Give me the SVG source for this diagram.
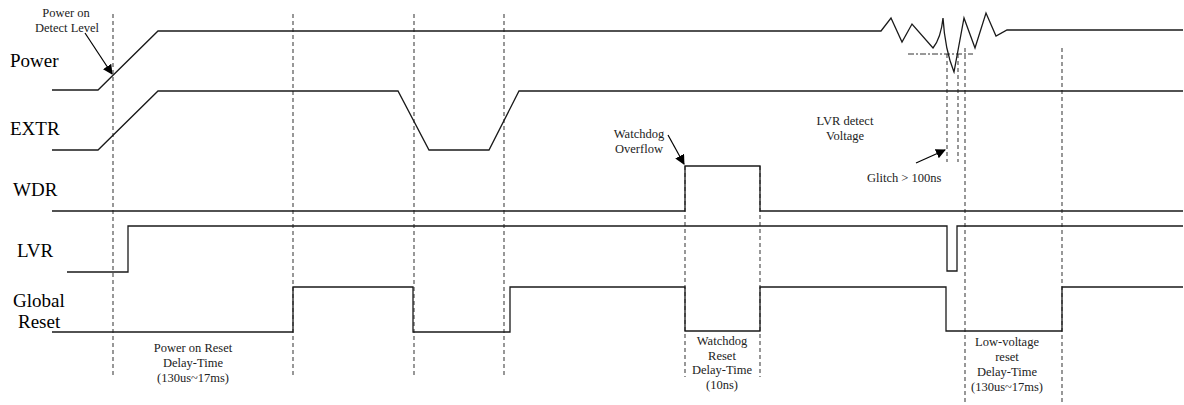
<svg xmlns="http://www.w3.org/2000/svg" width="1184" height="405" viewBox="0 0 1184 405">
<style>
.sig{fill:none;stroke:#1a1a1a;stroke-width:1.3}
.dash{fill:none;stroke:#444;stroke-width:1.1;stroke-dasharray:4,3}
.dashdot{fill:none;stroke:#333;stroke-width:1;stroke-dasharray:6,2,2,2}
.lbl{font-family:"Liberation Serif",serif;font-size:19px;fill:#000}
.note{font-family:"Liberation Serif",serif;font-size:12.5px;fill:#222}
.arr{fill:none;stroke:#000;stroke-width:1.2}
</style>
<defs>
<marker id="ah" viewBox="0 0 10 10" refX="9" refY="5" markerWidth="10" markerHeight="10" markerUnits="userSpaceOnUse" orient="auto">
<path d="M0,0 L10,5 L0,10 z" fill="#000"/>
</marker>
</defs>
<rect width="1184" height="405" fill="#fff"/>

<g id="labels">
<text class="lbl" x="10" y="67">Power</text>
<text class="lbl" x="10" y="135">EXTR</text>
<text class="lbl" x="13" y="196">WDR</text>
<text class="lbl" x="17" y="257">LVR</text>
<text class="lbl" x="13" y="307">Global</text>
<text class="lbl" x="18" y="328">Reset</text>
</g>

<g id="guides">
<line class="dash" x1="113" y1="14" x2="113" y2="377"/>
<line class="dash" x1="293" y1="14" x2="293" y2="377"/>
<line class="dash" x1="414" y1="14" x2="414" y2="377"/>
<line class="dash" x1="504" y1="14" x2="504" y2="377"/>
<line class="dash" x1="685" y1="166" x2="685" y2="377"/>
<line class="dash" x1="760" y1="166" x2="760" y2="377"/>
<line class="dash" x1="947" y1="54" x2="947" y2="162"/>
<line class="dash" x1="958" y1="54" x2="958" y2="162"/>
<line class="dash" x1="965" y1="48" x2="965" y2="405"/>
<line class="dash" x1="1062" y1="48" x2="1062" y2="405"/>
<line class="dashdot" x1="908" y1="54" x2="973" y2="54"/>
</g>

<g id="power">
<path class="sig" d="M52,90 L98,90 L158,31 L881,31 L891,18 L902,42 L912,24 L933,48 Q941,38 943,18 Q945,50 954,72 L964,18 L975,48 L986,13 L996,36 L1007,30 L1183,30"/>
</g>
<g id="extr">
<path class="sig" d="M52,150 L98,150 L158,91 L398,91 L429,150 L489,150 L519,91 L1183,91"/>
</g>
<g id="wdr">
<path class="sig" d="M52,211 L685,211 L685,166 L760,166 L760,211 L1183,211"/>
</g>
<g id="lvr">
<path class="sig" d="M67,272 L128,272 L128,226 L947,226 L947,271 L957,271 L957,226 L1183,226"/>
</g>
<g id="global-reset">
<path class="sig" d="M52,332 L293,332 L293,287 L413,287 L413,332 L510,332 L510,287 L685,287 L685,331 L760,331 L760,287 L946,287 L946,331 L1062,331 L1062,287 L1183,287"/>
</g>

<g id="connectors">
<line class="arr" x1="85" y1="33" x2="112" y2="74" marker-end="url(#ah)"/>
<line class="arr" x1="668" y1="135" x2="684" y2="164" marker-end="url(#ah)"/>
<line class="arr" x1="916" y1="163" x2="945" y2="150" marker-end="url(#ah)"/>
</g>

<g id="annotations">
<text class="note" text-anchor="middle" x="66" y="17">Power on</text>
<text class="note" text-anchor="middle" x="67" y="32">Detect Level</text>
<text class="note" text-anchor="middle" x="639" y="138">Watchdog</text>
<text class="note" text-anchor="middle" x="639" y="153">Overflow</text>
<text class="note" text-anchor="middle" x="845" y="125">LVR detect</text>
<text class="note" text-anchor="middle" x="845" y="140">Voltage</text>
<text class="note" x="867" y="182">Glitch &gt; 100ns</text>
<text class="note" text-anchor="middle" x="193" y="352">Power on Reset</text>
<text class="note" text-anchor="middle" x="193" y="367">Delay-Time</text>
<text class="note" text-anchor="middle" x="193" y="382">(130us~17ms)</text>
<text class="note" text-anchor="middle" x="722" y="345">Watchdog</text>
<text class="note" text-anchor="middle" x="722" y="360">Reset</text>
<text class="note" text-anchor="middle" x="722" y="374">Delay-Time</text>
<text class="note" text-anchor="middle" x="722" y="389">(10ns)</text>
<text class="note" text-anchor="middle" x="1007" y="346">Low-voltage</text>
<text class="note" text-anchor="middle" x="1007" y="361">reset</text>
<text class="note" text-anchor="middle" x="1007" y="376">Delay-Time</text>
<text class="note" text-anchor="middle" x="1007" y="391">(130us~17ms)</text>
</g>
</svg>
